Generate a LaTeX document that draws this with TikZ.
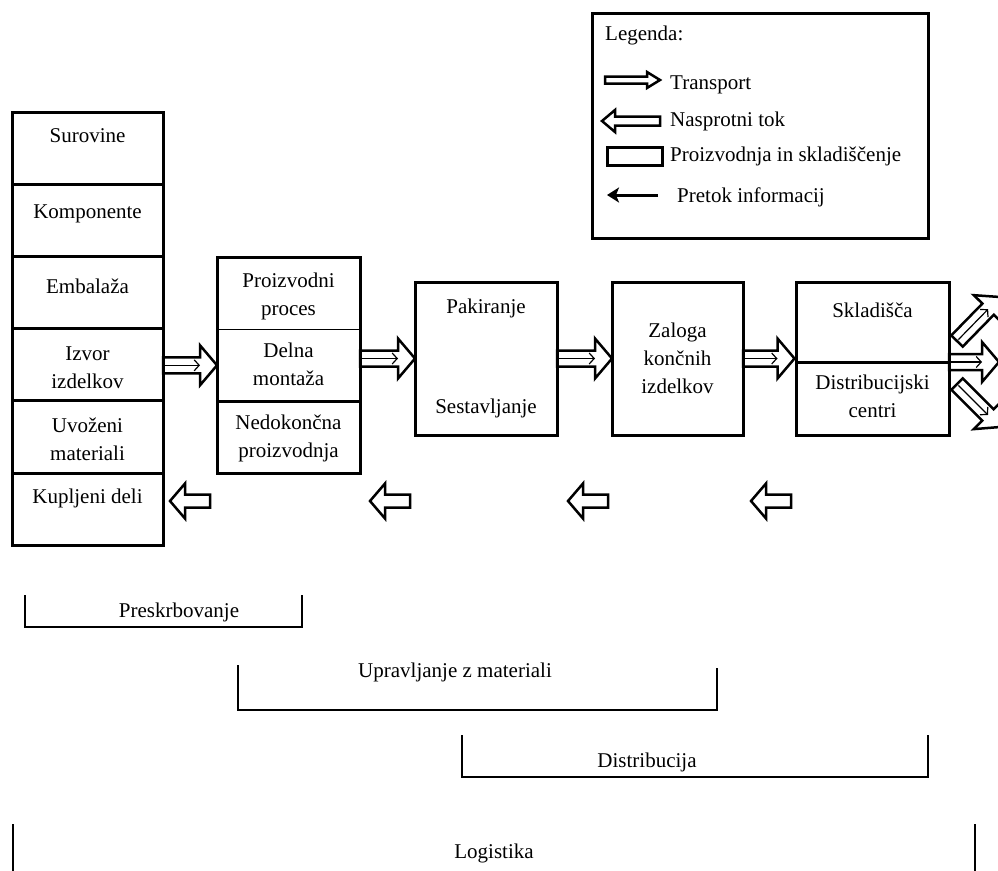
\documentclass[tikz,border=0pt]{standalone}
\usepackage{fontspec}
\setmainfont{Liberation Serif}
\usetikzlibrary{arrows.meta,positioning,fit,calc}
\newcommand{\bodyfont}{\fontsize{21}{28}\selectfont}
% hollow block arrow: shaft half width, head half width, head length, tail, tip
\newcommand{\blockarrow}[5]{%
  \coordinate (hb) at ($(#5)!#3!(#4)$);
  \draw[blockline] ($(#4)!#1!90:(#5)$) -- ($(hb)!#1!90:(#5)$) -- ($(hb)!#2!90:(#5)$)
    -- (#5) -- ($(hb)!#2!-90:(#5)$) -- ($(hb)!#1!-90:(#5)$) -- ($(#4)!#1!-90:(#5)$) -- cycle;}
% transport, with the information flowing back inside it
\newcommand{\transport}[2]{%
  \blockarrow{8pt}{20pt}{17pt}{#1}{#2}
  \draw[info] (hb) -- ($(#1)!2pt!(#2)$);}

\begin{document}
\begin{tikzpicture}[x=1pt,y=-1pt,
  cell/.style={inner sep=0pt,outer sep=0pt,minimum height=72.2pt},
  celltext/.style={anchor=north,yshift=-14pt,align=center,font=\bodyfont,inner sep=2pt},
  frame/.style={draw,line width=3pt,inner sep=0pt},
  divider/.style={line width=3pt},
  stage/.style={draw,line width=3pt,inner sep=0pt,outer sep=0pt,align=center,font=\bodyfont},
  blockline/.style={line width=2.5pt,line join=miter},
  info/.style={{Straight Barb[length=5pt,width=11pt]}-,line width=1.2pt},
  legendinfo/.style={-{Stealth[length=12pt,width=15pt,inset=3pt]},line width=3pt},
  plain/.style={font=\bodyfont,inner sep=0pt,anchor=base west},
  spantext/.style={font=\bodyfont,inner sep=0pt,anchor=base},
  span/.style={line width=2.5pt}]
  \useasboundingbox (0,0) rectangle (998,870);

  % supply column
  \node[cell,minimum width=151pt,label={[celltext]north:Surovine}] (surovine) at (87.5,148.1) {};
  \node[cell,minimum width=151pt,below=0pt of surovine,
    label={[celltext,yshift=-4pt]north:Komponente}] (komponente) {};
  \node[cell,minimum width=151pt,below=0pt of komponente,
    label={[celltext,yshift=-6pt]north:Embalaža}] (embalaza) {};
  \node[cell,minimum width=151pt,below=0pt of embalaza,
    label={[celltext,yshift=-2pt]north:Izvor\\izdelkov}] (izvor) {};
  \node[cell,minimum width=151pt,below=0pt of izvor,
    label={[celltext,yshift=-1pt]north:Uvoženi\\materiali}] (uvozeni) {};
  \node[cell,minimum width=151pt,below=0pt of uvozeni,
    label={[celltext]north:Kupljeni deli}] (kupljeni) {};
  \node[frame,fit=(surovine)(kupljeni)] (dobava) {};
  \foreach \c in {surovine,komponente,embalaza,izvor,uvozeni}
    \draw[divider] (\c.south west) -- (\c.south east);

  % production
  \node[cell,minimum width=143pt,label={[celltext]north:Proizvodni\\proces}] (proces) at (288.5,293.1) {};
  \node[cell,minimum width=143pt,below=0pt of proces,
    label={[celltext,yshift=2pt]north:Delna\\montaža}] (montaza) {};
  \node[cell,minimum width=143pt,below=0pt of montaza,
    label={[celltext,yshift=3pt]north:Nedokončna\\proizvodnja}] (nedokoncna) {};
  \node[frame,fit=(proces)(nedokoncna)] (proizvodnja) {};
  \draw[line width=1pt] (proces.south west) -- (proces.south east);
  \draw[divider] (montaza.south west) -- (montaza.south east);

  \node[stage,minimum width=142pt,minimum height=153pt] (pakiranje) at (486,358.5)
    {Pakiranje\\[72pt]Sestavljanje};
  \node[stage,minimum width=131pt,minimum height=153pt,right=55pt of pakiranje] (zaloga)
    {Zaloga\\končnih\\izdelkov};

  % warehouses
  \node[cell,minimum width=153pt,minimum height=80pt,
    label={[celltext,yshift=-5pt]north:Skladišča}] (skladisca) at (872.5,322) {};
  \node[cell,minimum width=153pt,minimum height=73pt,below=0pt of skladisca,
    label={[celltext,yshift=3pt]north:Distribucijski\\centri}] (centri) {};
  \node[frame,fit=(skladisca)(centri)] (skladiscenje) {};
  \draw[divider] (skladisca.south west) -- (skladisca.south east);

  % transport between the stages
  \transport{izvor.east |- montaza.west}{montaza.west}
  \transport{montaza.east |- pakiranje.west}{pakiranje.west}
  \transport{pakiranje.east}{zaloga.west}
  \transport{zaloga.east}{skladiscenje.west}

  \begin{scope}
    \clip (0,0) rectangle (998,870);
    \coordinate (odhod1) at ($(skladisca.south east)+(8,-21)$);
    \coordinate (odhod2) at (centri.north east);
    \coordinate (odhod3) at ($(centri.north east)+(8,22)$);
    \coordinate (izhod1) at (1000,297);
    \coordinate (izhod2) at (999,362);
    \coordinate (izhod3) at (1000,427);
    \transport{odhod1}{izhod1}
    \transport{odhod2}{izhod2}
    \transport{odhod3}{izhod3}
  \end{scope}

  % reverse flow
  \foreach \x in {190,390,588,771}
    {\blockarrow{6.5pt}{17.5pt}{15pt}{\x+20,501}{\x-20,501}}

  % legend
  \node[frame,minimum width=336pt,minimum height=225pt] (legenda) at (760,125.5) {};
  \node[plain] (naslov) at (605,40) {Legenda:};
  \coordinate (tr1) at (605,80);
  \coordinate (tr2) at (660,80);
  \blockarrow{3.5pt}{8pt}{13pt}{tr1}{tr2}
  \node[plain] (ltransport) at (670,89) {Transport};
  \coordinate (nt1) at (660,121);
  \coordinate (nt2) at (602,121);
  \blockarrow{4.5pt}{11pt}{13pt}{nt1}{nt2}
  \node[plain] (ltok) at (670,126) {Nasprotni tok};
  \node[frame,minimum width=55pt,minimum height=18pt] (vzorec) at (634.5,156) {};
  \node[plain] (lproizvodnja) at (670,161) {Proizvodnja in skladiščenje};
  \coordinate (pi1) at (658,195);
  \coordinate (pi2) at (607,195);
  \draw[legendinfo] (pi1) -- (pi2);
  \node[plain] (lpretok) at (677,202) {Pretok informacij};

  % spans
  \draw[span] (25,595) |- (302,627) -- (302,595);
  \node[spantext] (preskrbovanje) at (179,617) {Preskrbovanje};
  \draw[span] (238,665) |- (717,710) -- (717,668);
  \node[spantext] (upravljanje) at (455,677) {Upravljanje z materiali};
  \draw[span] (462,735) |- (928,777) -- (928,735);
  \node[spantext] (distribucija) at (647,767) {Distribucija};
  \draw[span] (13,824) -- (13,872);
  \draw[span] (975,824) -- (975,872);
  \node[spantext] (logistika) at (494,858) {Logistika};
\end{tikzpicture}
\end{document}
